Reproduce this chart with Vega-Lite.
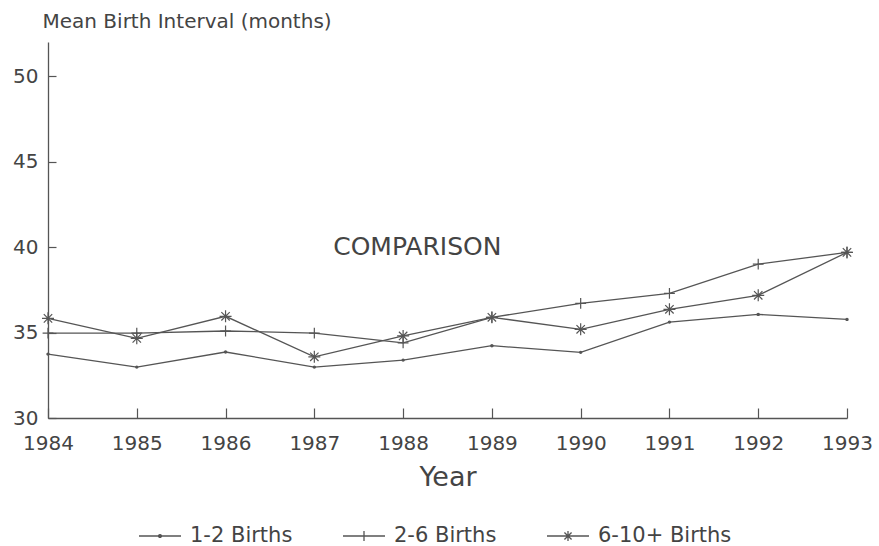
{
  "$schema": "https://vega.github.io/schema/vega-lite/v6.json",
  "width": 799,
  "height": 376,
  "autosize": "none",
  "padding": {"left": 48, "top": 42, "right": 32, "bottom": 128},
  "background": "white",
  "config": {
    "view": {"stroke": null},
    "font": "DejaVu Sans",
    "axis": {"domainColor": "#555", "tickColor": "#555", "labelColor": "#444", "titleColor": "#444", "grid": false, "labelFont": "DejaVu Sans", "titleFont": "DejaVu Sans", "domainWidth": 1.3, "tickWidth": 1.2}
  },
  "datasets": {
    "series": [
      {"year": 1984, "series": "1-2 Births", "value": 33.74},
      {"year": 1985, "series": "1-2 Births", "value": 32.98},
      {"year": 1986, "series": "1-2 Births", "value": 33.86},
      {"year": 1987, "series": "1-2 Births", "value": 32.98},
      {"year": 1988, "series": "1-2 Births", "value": 33.39},
      {"year": 1989, "series": "1-2 Births", "value": 34.23},
      {"year": 1990, "series": "1-2 Births", "value": 33.84},
      {"year": 1991, "series": "1-2 Births", "value": 35.61},
      {"year": 1992, "series": "1-2 Births", "value": 36.06},
      {"year": 1993, "series": "1-2 Births", "value": 35.77},
      {"year": 1984, "series": "2-6 Births", "value": 34.97},
      {"year": 1985, "series": "2-6 Births", "value": 34.97},
      {"year": 1986, "series": "2-6 Births", "value": 35.09},
      {"year": 1987, "series": "2-6 Births", "value": 34.97},
      {"year": 1988, "series": "2-6 Births", "value": 34.4},
      {"year": 1989, "series": "2-6 Births", "value": 35.89},
      {"year": 1990, "series": "2-6 Births", "value": 36.71},
      {"year": 1991, "series": "2-6 Births", "value": 37.29},
      {"year": 1992, "series": "2-6 Births", "value": 39.0},
      {"year": 1993, "series": "2-6 Births", "value": 39.69},
      {"year": 1984, "series": "6-10+ Births", "value": 35.83},
      {"year": 1985, "series": "6-10+ Births", "value": 34.66},
      {"year": 1986, "series": "6-10+ Births", "value": 35.95},
      {"year": 1987, "series": "6-10+ Births", "value": 33.58},
      {"year": 1988, "series": "6-10+ Births", "value": 34.8},
      {"year": 1989, "series": "6-10+ Births", "value": 35.89},
      {"year": 1990, "series": "6-10+ Births", "value": 35.19},
      {"year": 1991, "series": "6-10+ Births", "value": 36.36},
      {"year": 1992, "series": "6-10+ Births", "value": 37.18},
      {"year": 1993, "series": "6-10+ Births", "value": 39.69}
    ],
    "notes": [{"year": 1988.16, "value": 40.0, "label": "COMPARISON"}]
  },
  "encoding": {
    "x": {
      "field": "year", "type": "quantitative",
      "scale": {"domain": [1984, 1993], "nice": false, "zero": false},
      "axis": {"values": [1984, 1985, 1986, 1987, 1988, 1989, 1990, 1991, 1992, 1993], "format": "d", "tickSize": -10, "labelPadding": 25, "labelFontSize": 20, "labelFlush": false, "labelOverlap": false, "title": "Year", "titleFontSize": 27, "titleFontWeight": "normal", "titleY": 67, "titleBaseline": "alphabetic"}
    },
    "y": {
      "field": "value", "type": "quantitative",
      "scale": {"domain": [30, 52], "nice": false, "zero": false},
      "axis": {"values": [30, 35, 40, 45, 50], "tickSize": -8, "labelPadding": 18, "labelFontSize": 20, "labelOverlap": false, "title": "Mean Birth Interval (months)", "titleAngle": 0, "titleAlign": "left", "titleBaseline": "alphabetic", "titleX": -6, "titleY": -15, "titleFontSize": 20, "titleFontWeight": "normal"}
    }
  },
  "layer": [
    {
      "data": {"name": "series"},
      "mark": {"type": "line", "strokeWidth": 1.3},
      "encoding": {
        "color": {
          "field": "series", "type": "nominal",
          "scale": {"domain": ["1-2 Births", "2-6 Births", "6-10+ Births"], "range": ["#555", "#555", "#555"]},
          "legend": {
            "orient": "none", "legendX": 90, "legendY": 472, "direction": "horizontal", "title": null,
            "labelFontSize": 21, "labelColor": "#444", "labelFont": "DejaVu Sans",
            "symbolSize": 1764, "labelOffset": 8, "columnPadding": 47, "padding": 0, "symbolStrokeWidth": 1.3,
            "encode": {"symbols": {"update": {
              "shape": {"signal": "datum.value === '1-2 Births' ? 'M-1,0H1M0.07,0A0.07,0.07 0 1,1 -0.07,0A0.07,0.07 0 1,1 0.07,0' : datum.value === '2-6 Births' ? 'M-1,0H1M0,-0.24V0.24' : 'M-1,0H1M0,-0.24V0.24M-0.17,-0.17L0.17,0.17M-0.17,0.17L0.17,-0.17'"},
              "fill": {"value": "#555"},
              "stroke": {"value": "#555"},
              "strokeWidth": {"value": 1.3}
            }}}
          }
        }
      }
    },
    {
      "data": {"name": "series"},
      "transform": [{"filter": "datum.series === '1-2 Births'"}],
      "mark": {"type": "point", "filled": true, "color": "#555", "size": 144, "opacity": 1, "shape": "M0.28,0A0.28,0.28 0 1,1 -0.28,0A0.28,0.28 0 1,1 0.28,0"}
    },
    {
      "data": {"name": "series"},
      "transform": [{"filter": "datum.series === '2-6 Births'"}],
      "mark": {"type": "point", "filled": false, "color": "#555", "strokeWidth": 1.2, "size": 144, "opacity": 1, "shape": "M-0.9,0H0.9M0,-0.9V0.9"}
    },
    {
      "data": {"name": "series"},
      "transform": [{"filter": "datum.series === '6-10+ Births'"}],
      "mark": {"type": "point", "filled": false, "color": "#555", "strokeWidth": 1.2, "size": 144, "opacity": 1, "shape": "M-1,0H1M0,-1V1M-0.7,-0.7L0.7,0.7M-0.7,0.7L0.7,-0.7"}
    },
    {
      "data": {"name": "notes"},
      "mark": {"type": "text", "fontSize": 25, "color": "#444", "font": "DejaVu Sans", "baseline": "middle", "align": "center"},
      "encoding": {"text": {"field": "label"}}
    }
  ]
}
